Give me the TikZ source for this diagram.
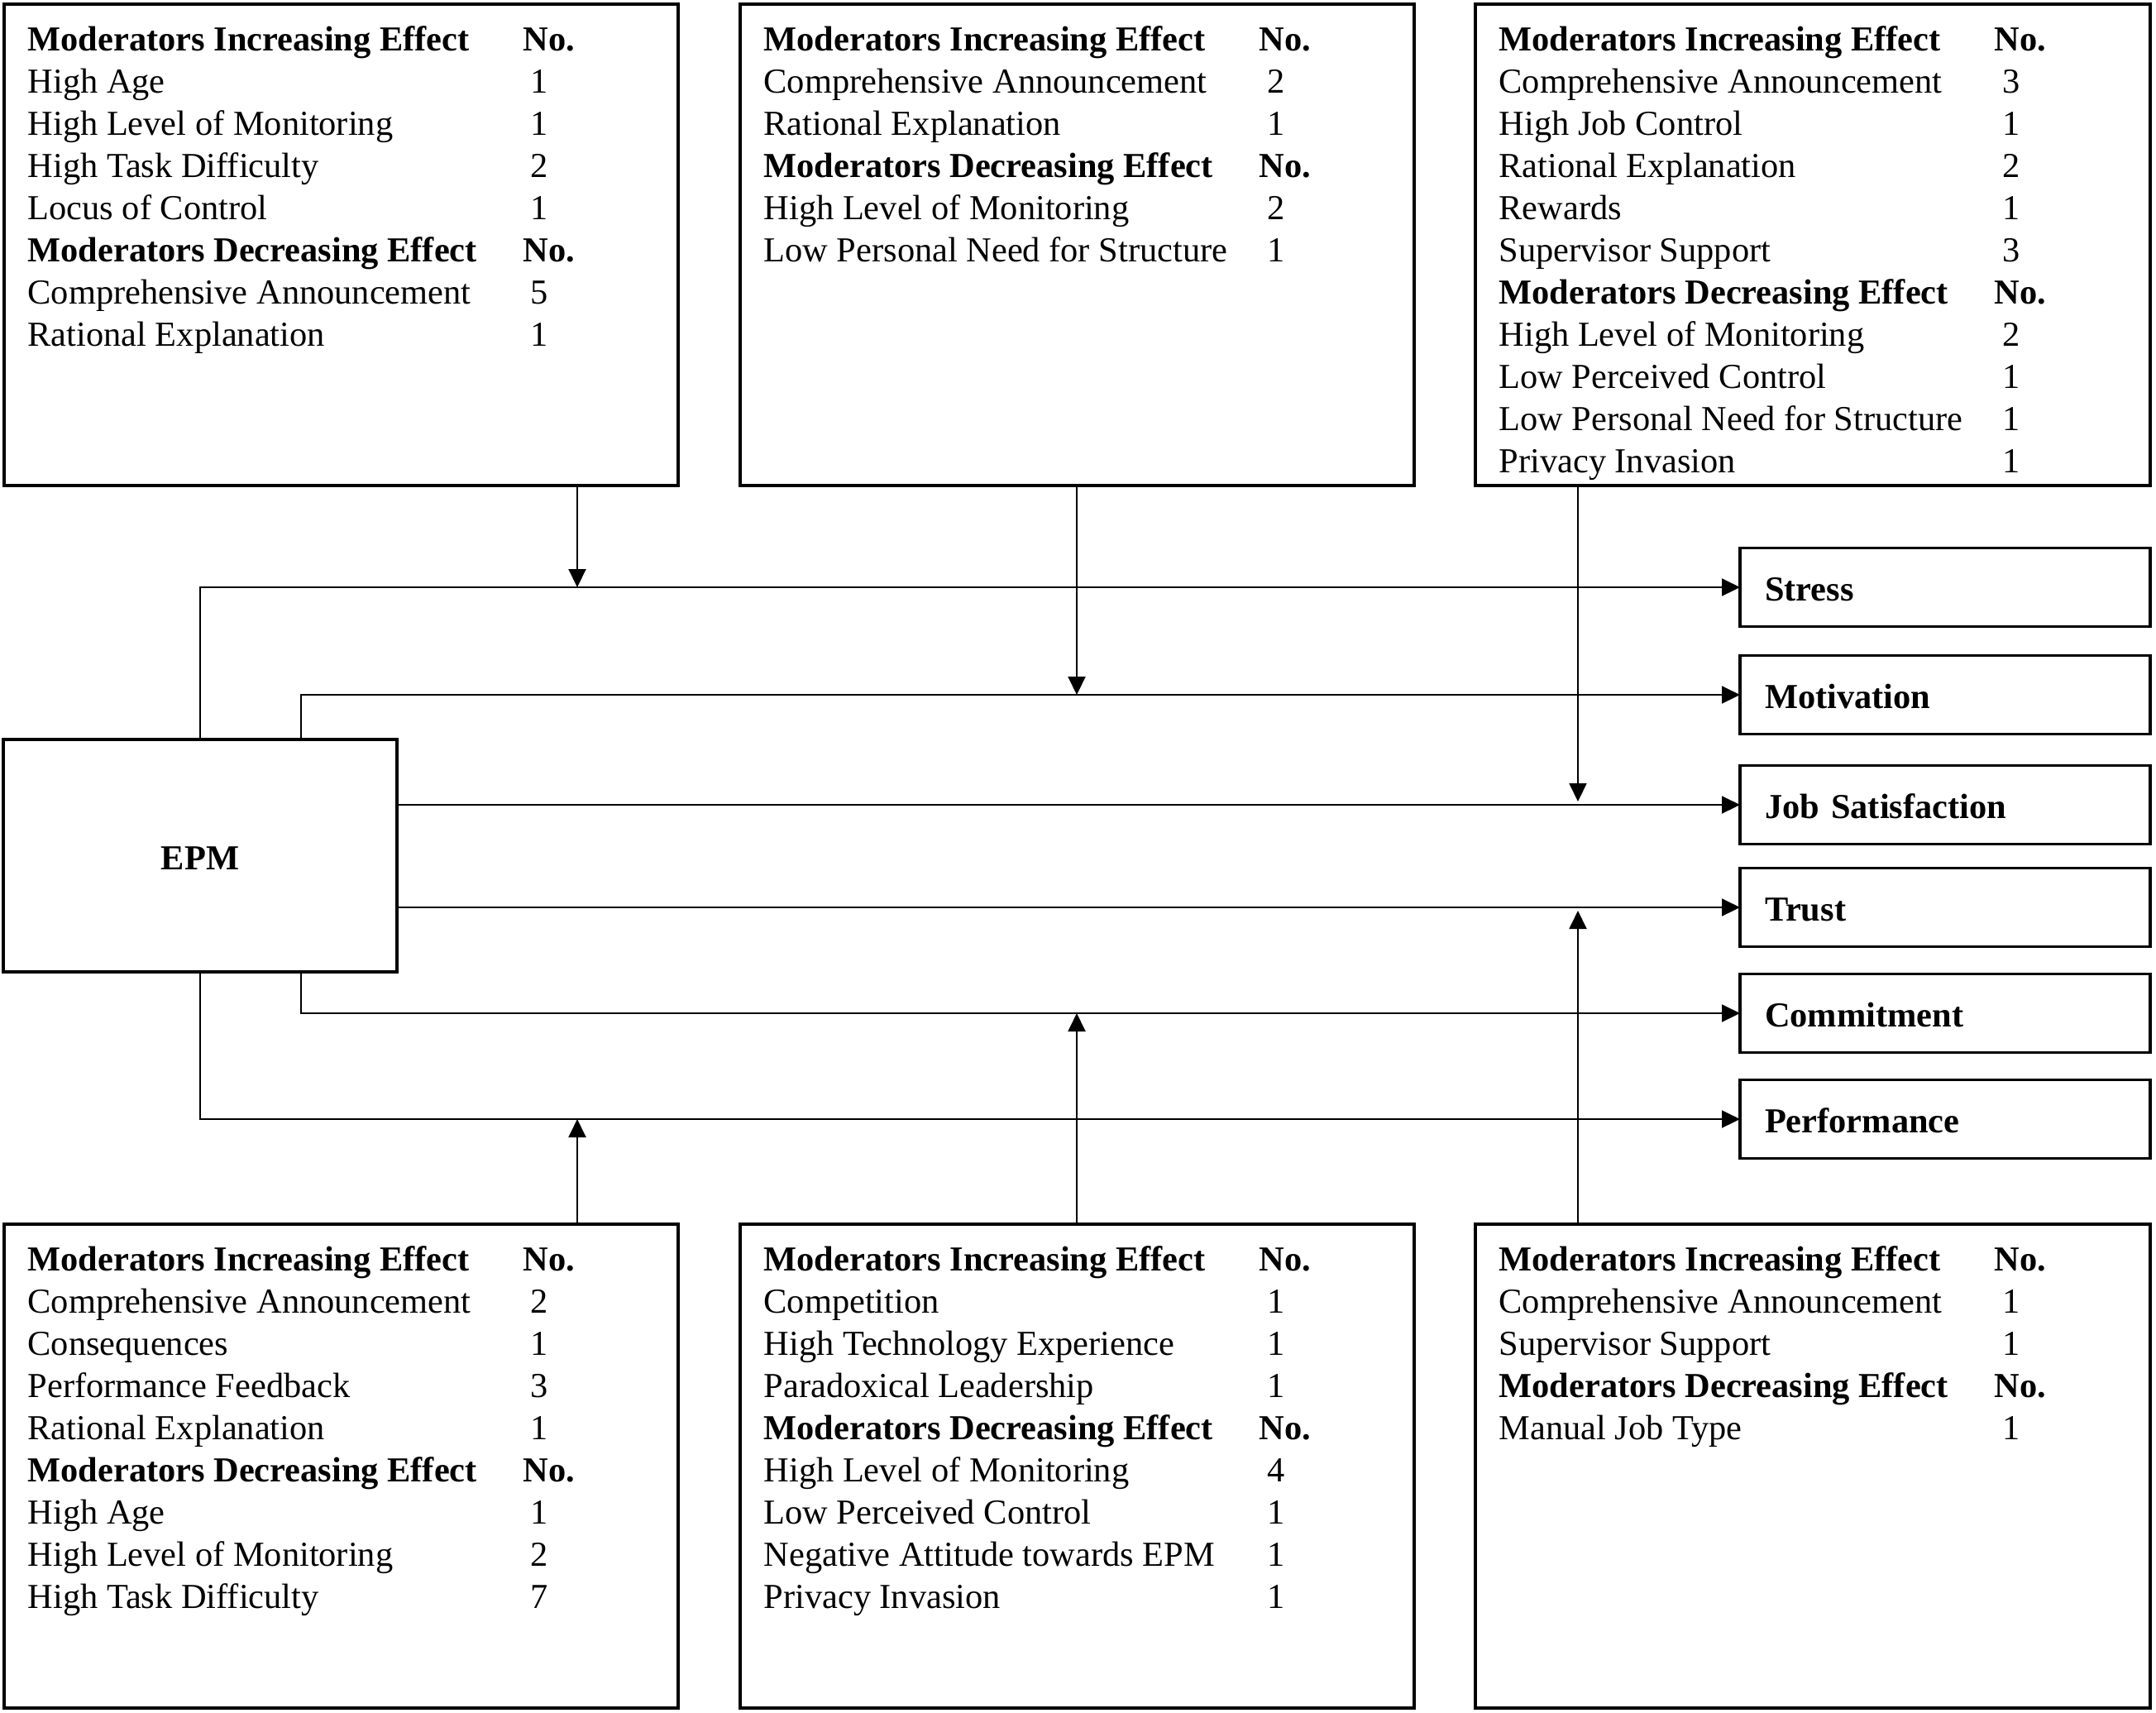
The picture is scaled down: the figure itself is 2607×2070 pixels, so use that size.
\documentclass[tikz,border=0pt]{standalone}
\usepackage{fontspec}
\setmainfont{Liberation Serif}
\usetikzlibrary{arrows.meta,calc}
\newcommand{\dg}[1]{\hspace{2.8pt}#1}
\newcommand{\hb}[1]{\textbf{#1}}
\newcommand{\boxrows}[2]{%
  \foreach \lab/\num [count=\i from 0] in {#2} {
    \node[txt] (#1-l\i) at ($(#1.north west)+(8.4pt,{-16.8pt-\i*15.3pt})$) {\lab};
    \node[txt] (#1-n\i) at ($(#1.north west)+(188.1pt,{-16.8pt-\i*15.3pt})$) {\num};
  }}
\begin{document}
\begin{tikzpicture}[x=0.3pt,y=-0.3pt,
  txt/.style={anchor=base west, inner sep=0pt, font=\fontsize{12.72}{15.3}\selectfont},
  mbox/.style={draw, line width=1pt, anchor=north west, inner sep=0pt, outer sep=0pt, minimum width=244.5pt, minimum height=174.6pt},
  obox/.style={draw, line width=1.1pt, inner xsep=9pt, inner ysep=0pt, outer sep=0pt, text width=130.8pt, align=left, minimum height=28.5pt, text height=9.6pt, text depth=0pt, font=\fontsize{12.72}{15.3}\selectfont\bfseries},
  conn/.style={line width=0.6pt},
  arr/.style={conn, -{Triangle[length=6.6pt,width=6.3pt]}}]
\useasboundingbox (0,0) rectangle (2607,2070);

% moderator boxes
\node[mbox] (tl) at (5,5) {};
\node[mbox] (tm) at (895,5) {};
\node[mbox, minimum width=244.8pt] (tr) at (1784,5) {};
\node[mbox, minimum height=175.5pt] (bl) at (5,1480) {};
\node[mbox, minimum height=175.5pt] (bm) at (895,1480) {};
\node[mbox, minimum width=244.8pt, minimum height=175.5pt] (br) at (1784,1480) {};

% EPM
\node[draw, line width=1.2pt, anchor=north west, minimum width=142.8pt, minimum height=84.3pt, inner sep=0pt, outer sep=0pt, text height=9.9pt, text depth=0pt, font=\fontsize{12.72}{15.3}\selectfont\bfseries] (epm) at (4,894) {EPM};

% outcomes
\node[obox] (stress) at (2352,710) {Stress};
\node[obox] (motiv) at (2352,840) {Motivation};
\node[obox] (js) at (2352,973) {Job Satisfaction};
\node[obox] (trust) at (2352,1097) {Trust};
\node[obox] (commit) at (2352,1225) {Commitment};
\node[obox] (perf) at (2352,1353) {Performance};

% connectors
\draw[arr] (epm.north) |- (stress.west);
\draw[arr] ([xshift=36.6pt]epm.north) |- (motiv.west);
\draw[arr] (epm.east |- js.west) -- (js.west);
\draw[arr] (epm.east |- trust.west) -- (trust.west);
\draw[arr] ([xshift=36.6pt]epm.south) |- (commit.west);
\draw[arr] (epm.south) |- (perf.west);

\coordinate (c1) at (698,0);
\coordinate (c2) at (1302,0);
\coordinate (c3) at (1908,0);
\draw[arr] (tl.south -| c1) -- (c1 |- stress.west);
\draw[arr] (tm.south -| c2) -- (c2 |- motiv.west);
\draw[arr] (tr.south -| c3) -- ($(c3 |- js.west)+(0pt,1.2pt)$);
\draw[arr] (bl.north -| c1) -- (c1 |- perf.west);
\draw[arr] (bm.north -| c2) -- (c2 |- commit.west);
\draw[arr] (br.north -| c3) -- ($(c3 |- trust.west)+(0pt,-1.2pt)$);

% texts
\boxrows{tl}{\hb{Moderators Increasing Effect}/\hb{No.},High Age/\dg1,High Level of Monitoring/\dg1,High Task Difficulty/\dg2,Locus of Control/\dg1,\hb{Moderators Decreasing Effect}/\hb{No.},Comprehensive Announcement/\dg5,Rational Explanation/\dg1}
\boxrows{tm}{\hb{Moderators Increasing Effect}/\hb{No.},Comprehensive Announcement/\dg2,Rational Explanation/\dg1,\hb{Moderators Decreasing Effect}/\hb{No.},High Level of Monitoring/\dg2,Low Personal Need for Structure/\dg1}
\boxrows{tr}{\hb{Moderators Increasing Effect}/\hb{No.},Comprehensive Announcement/\dg3,High Job Control/\dg1,Rational Explanation/\dg2,Rewards/\dg1,Supervisor Support/\dg3,\hb{Moderators Decreasing Effect}/\hb{No.},High Level of Monitoring/\dg2,Low Perceived Control/\dg1,Low Personal Need for Structure/\dg1,Privacy Invasion/\dg1}
\boxrows{bl}{\hb{Moderators Increasing Effect}/\hb{No.},Comprehensive Announcement/\dg2,Consequences/\dg1,Performance Feedback/\dg3,Rational Explanation/\dg1,\hb{Moderators Decreasing Effect}/\hb{No.},High Age/\dg1,High Level of Monitoring/\dg2,High Task Difficulty/\dg7}
\boxrows{bm}{\hb{Moderators Increasing Effect}/\hb{No.},Competition/\dg1,High Technology Experience/\dg1,Paradoxical Leadership/\dg1,\hb{Moderators Decreasing Effect}/\hb{No.},High Level of Monitoring/\dg4,Low Perceived Control/\dg1,Negative Attitude towards EPM/\dg1,Privacy Invasion/\dg1}
\boxrows{br}{\hb{Moderators Increasing Effect}/\hb{No.},Comprehensive Announcement/\dg1,Supervisor Support/\dg1,\hb{Moderators Decreasing Effect}/\hb{No.},Manual Job Type/\dg1}
\end{tikzpicture}
\end{document}
